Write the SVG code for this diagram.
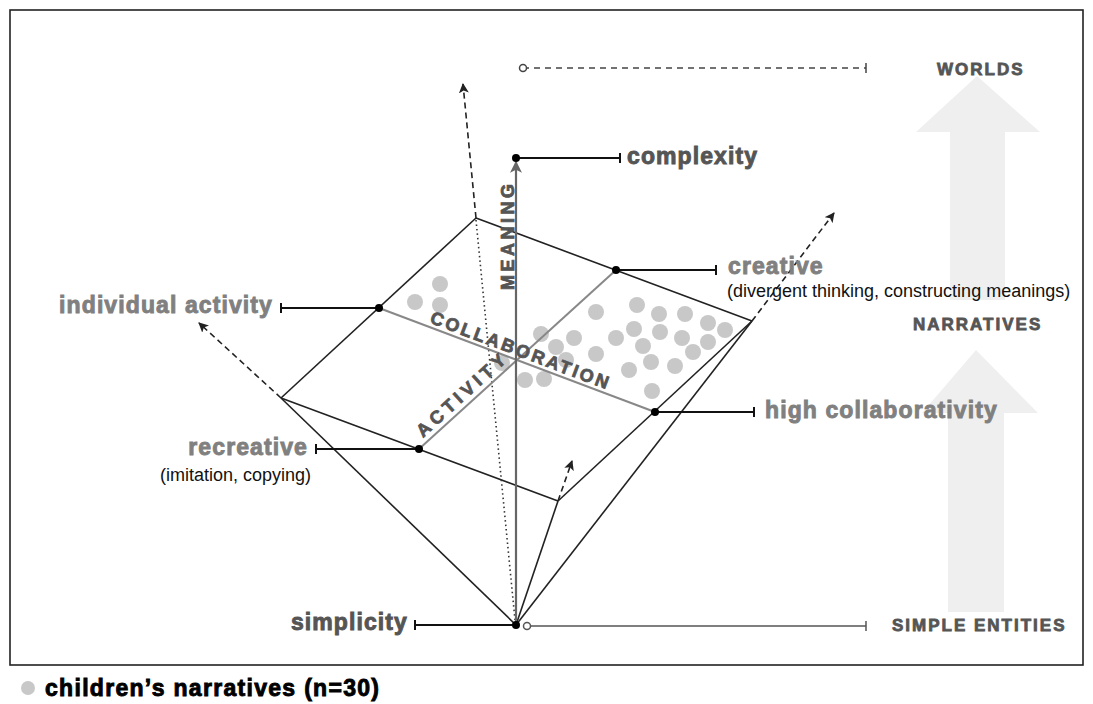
<svg xmlns="http://www.w3.org/2000/svg" width="1093" height="704" viewBox="0 0 1093 704">
<defs>
<marker id="ah" viewBox="0 0 10 10" refX="9" refY="5" markerWidth="10" markerHeight="10" markerUnits="userSpaceOnUse" orient="auto">
<path d="M0,0 L10,5 L0,10 L2.5,5 Z" fill="#222"/>
</marker>
<marker id="ahg" viewBox="0 0 10 10" refX="9" refY="5" markerWidth="12" markerHeight="12" markerUnits="userSpaceOnUse" orient="auto">
<path d="M0,0 L10,5 L0,10 L2.5,5 Z" fill="#666"/>
</marker>
</defs>
<style>
.edge{stroke:#222;stroke-width:1.6;fill:none}
.dash{stroke:#222;stroke-width:1.6;fill:none;stroke-dasharray:6 4}
.dot{stroke:#333;stroke-width:1.6;fill:none;stroke-dasharray:1.5 3}
.axis{stroke:#888;stroke-width:2;fill:none}
.lead{stroke:#111;stroke-width:2;fill:none}
.pt{fill:#000}
.nd{fill:#c8c8c8}
.lbl{font-family:"Liberation Sans",Arial,sans-serif;font-weight:700;font-size:23px;letter-spacing:1.1px;fill:#808080;stroke:#808080;stroke-width:0.9px}
.dk{fill:#555;stroke:#555}
.sub{font-family:"Liberation Sans",Arial,sans-serif;font-size:18px;fill:#111}
.cap{font-family:"Liberation Sans",Arial,sans-serif;font-weight:700;font-size:17px;letter-spacing:2px;fill:#555;stroke:#555;stroke-width:0.8px}
.ax{font-family:"Liberation Sans",Arial,sans-serif;font-weight:700;font-size:18px;fill:#555;stroke:#555;stroke-width:0.8px}
</style>
<rect x="10" y="10" width="1073" height="655" fill="#fff" stroke="#222" stroke-width="1.6"/>

<g id="big-arrows" fill="#efefef">
<polygon points="977,76 1040,132 1005,132 1005,300 950,300 950,132 916,132"/>
<polygon points="976,350 1038,413 1004,413 1004,612 948,612 948,413 922,413"/>
</g>

<g id="data-points">
<circle class="nd" cx="440" cy="284" r="8"/>
<circle class="nd" cx="415" cy="302" r="8"/>
<circle class="nd" cx="440" cy="305" r="8"/>
<circle class="nd" cx="596" cy="312" r="8"/>
<circle class="nd" cx="637" cy="305" r="8"/>
<circle class="nd" cx="659" cy="314" r="8"/>
<circle class="nd" cx="685" cy="314" r="8"/>
<circle class="nd" cx="708" cy="323" r="8"/>
<circle class="nd" cx="725" cy="330" r="8"/>
<circle class="nd" cx="541" cy="334" r="8"/>
<circle class="nd" cx="556" cy="347" r="8"/>
<circle class="nd" cx="574" cy="338" r="8"/>
<circle class="nd" cx="616" cy="338" r="8"/>
<circle class="nd" cx="634" cy="329" r="8"/>
<circle class="nd" cx="660" cy="332" r="8"/>
<circle class="nd" cx="682" cy="338" r="8"/>
<circle class="nd" cx="708" cy="342" r="8"/>
<circle class="nd" cx="643" cy="346" r="8"/>
<circle class="nd" cx="596" cy="354" r="8"/>
<circle class="nd" cx="693" cy="352" r="8"/>
<circle class="nd" cx="525" cy="380" r="8"/>
<circle class="nd" cx="544" cy="379" r="8"/>
<circle class="nd" cx="629" cy="370" r="8"/>
<circle class="nd" cx="651" cy="362" r="8"/>
<circle class="nd" cx="675" cy="366" r="8"/>
<circle class="nd" cx="652" cy="391" r="8"/>
<circle class="nd" cx="502" cy="363" r="8"/>
<circle class="nd" cx="566" cy="360" r="8"/>
</g>

<g id="connectors">
<line class="edge" x1="476" y1="218" x2="281" y2="398"/>
<line class="edge" x1="476" y1="218" x2="752" y2="321"/>
<line class="edge" x1="281" y1="398" x2="558" y2="501"/>
<line class="edge" x1="558" y1="501" x2="752" y2="321"/>
<line class="edge" x1="516" y1="625" x2="281" y2="398"/>
<line class="edge" x1="516" y1="625" x2="558" y2="501"/>
<line class="edge" x1="516" y1="625" x2="752" y2="321"/>
<line class="dot" x1="476" y1="220" x2="515" y2="620"/>
<line class="dash" x1="476" y1="218" x2="463" y2="84" marker-end="url(#ah)"/>
<line class="dash" x1="281" y1="398" x2="199" y2="323" marker-end="url(#ah)"/>
<line class="dash" x1="752" y1="321" x2="834" y2="213" marker-end="url(#ah)"/>
<line class="dash" x1="558" y1="501" x2="572" y2="461" marker-end="url(#ah)"/>
<line class="axis" x1="379" y1="308" x2="655" y2="412"/>
<line class="axis" x1="419" y1="449" x2="616" y2="270"/>
<line x1="516" y1="625" x2="516" y2="162" stroke="#666" stroke-width="2.2" marker-end="url(#ahg)"/>
<line x1="523" y1="68" x2="866" y2="68" stroke="#444" stroke-width="1.5" stroke-dasharray="6 5"/>
<line x1="866" y1="63" x2="866" y2="73" stroke="#444" stroke-width="1.5"/>
<circle cx="523" cy="68" r="3.5" fill="#fff" stroke="#444" stroke-width="1.5"/>
<line x1="527" y1="626" x2="866" y2="626" stroke="#555" stroke-width="1.5"/>
<line x1="866" y1="621" x2="866" y2="631" stroke="#555" stroke-width="1.5"/>
<circle cx="527" cy="626" r="3.5" fill="#fff" stroke="#555" stroke-width="1.5"/>
<path class="lead" d="M516,158 H620 M620,153 V163"/>
<path class="lead" d="M379,308 H281 M281,303 V313"/>
<path class="lead" d="M616,270 H716 M716,265 V275"/>
<path class="lead" d="M419,449 H316 M316,444 V454"/>
<path class="lead" d="M655,412 H754 M754,407 V417"/>
<path class="lead" d="M516,625 H415 M415,620 V630"/>
</g>

<g id="points">
<circle class="pt" cx="516" cy="158" r="4"/>
<circle class="pt" cx="379" cy="308" r="4"/>
<circle class="pt" cx="616" cy="270" r="4"/>
<circle class="pt" cx="419" cy="449" r="4"/>
<circle class="pt" cx="655" cy="412" r="4"/>
<circle class="pt" cx="516" cy="625" r="4"/>
</g>

<g id="axis-labels">
<text class="ax" transform="translate(514,290) rotate(-90)" letter-spacing="3.5">MEANING</text>
<text class="ax" transform="translate(429,322.5) rotate(20.65)" letter-spacing="2.7">COLLABORATION</text>
<text class="ax" transform="translate(423,438) rotate(-42.26)" letter-spacing="4.5">ACTIVITY</text>
</g>

<g id="label-complexity"><text class="lbl dk" x="627" y="164">complexity</text></g>
<g id="label-simplicity"><text class="lbl dk" x="408" y="630" text-anchor="end">simplicity</text></g>
<g id="label-individual"><text class="lbl" x="273" y="313" text-anchor="end">individual activity</text></g>
<g id="label-creative"><text class="lbl" x="728" y="274">creative</text><text class="sub" x="727" y="297">(divergent thinking, constructing meanings)</text></g>
<g id="label-recreative"><text class="lbl" x="308" y="455" text-anchor="end">recreative</text><text class="sub" x="160" y="481">(imitation, copying)</text></g>
<g id="label-high"><text class="lbl" x="765" y="418">high collaborativity</text></g>
<g id="label-worlds"><text class="cap" x="937" y="75">WORLDS</text></g>
<g id="label-narratives"><text class="cap" x="913" y="330">NARRATIVES</text></g>
<g id="label-simple"><text class="cap" x="892" y="631" letter-spacing="1.8">SIMPLE ENTITIES</text></g>

<g id="legend">
<circle cx="28" cy="688" r="7" fill="#c8c8c8"/>
<text x="45" y="696" font-family="'Liberation Sans',Arial,sans-serif" font-weight="700" font-size="23" letter-spacing="1.3" fill="#000" stroke="#000" stroke-width="0.9">children’s narratives (n=30)</text>
</g>
</svg>
